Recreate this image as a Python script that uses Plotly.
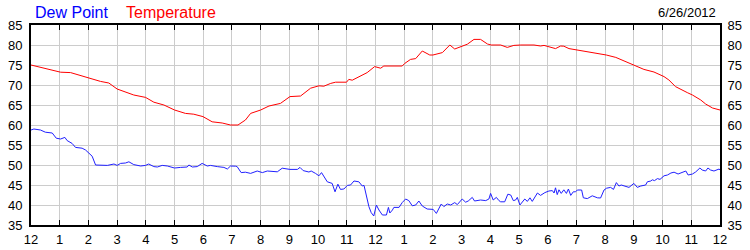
import plotly.graph_objects as go

# Hours since midnight (0-24) and readings
temp_t = [0, 0.33, 0.68, 1.03, 1.38, 1.72, 2.01, 2.42, 2.71, 3.0, 3.58, 3.99, 4.28, 4.63,
          5.0, 5.38, 5.67, 5.99, 6.31, 6.66, 6.95, 7.21, 7.47, 7.65, 8.0, 8.29, 8.69,
          9.02, 9.39, 9.74, 10.03, 10.2, 10.44, 10.61, 10.99, 11.07, 11.19, 11.37, 11.71,
          11.97, 12.18, 12.29, 12.53, 12.93, 13.02, 13.22, 13.4, 13.63, 13.89, 14.0, 14.33,
          14.59, 14.76, 15.02, 15.2, 15.43, 15.66, 15.9, 16.03, 16.36, 16.59, 16.82, 17.06,
          17.52, 17.75, 17.87, 18.04, 18.27, 18.45, 18.56, 18.74, 19.03, 19.38, 19.67,
          20.04, 20.37, 20.71, 21.04, 21.35, 21.7, 22.05, 22.22, 22.45, 22.86, 23.04,
          23.33, 23.5, 23.74, 24.0]
temp_v = [75.0, 74.4, 73.75, 73.2, 73.1, 72.4, 71.9, 70.9, 70.5, 69.0, 67.5, 66.9, 65.7, 65.0,
          63.75, 62.9, 62.7, 62.1, 60.8, 60.5, 60.0, 60.0, 61.25, 62.9, 63.75, 64.75, 65.4,
          67.1, 67.25, 69.2, 69.8, 69.7, 70.4, 70.7, 70.7, 71.4, 71.2, 71.9, 73.1,
          74.6, 74.2, 74.75, 74.8, 74.75, 75.4, 76.4, 76.6, 78.5, 77.5, 77.5, 78.1,
          80.0, 79.0, 79.6, 80.2, 81.4, 81.4, 80.25, 80.0, 80.0, 79.4, 79.9, 80.0,
          80.0, 79.75, 79.9, 79.6, 79.1, 79.75, 79.7, 79.1, 78.75, 78.4, 77.9,
          77.5, 76.9, 75.8, 74.9, 73.9, 73.25, 72.1, 71.25, 69.6, 68.1, 67.5,
          66.25, 65.25, 64.25, 63.75]

dew_t = [0, 0.1, 0.33, 0.5, 0.74, 0.88, 1.03, 1.18, 1.26, 1.43, 1.55, 1.78, 1.9, 2.01, 2.13,
         2.25, 2.42, 2.66, 2.89, 3.0, 3.12, 3.29, 3.41, 3.58, 3.82, 3.99, 4.1, 4.28, 4.4,
         4.57, 4.75, 5.0, 5.21, 5.44, 5.5, 5.62, 5.79, 5.96, 6.14, 6.25, 6.49, 6.72, 6.84,
         6.95, 7.13, 7.18, 7.32, 7.47, 7.65, 7.88, 8.06, 8.23, 8.58, 8.75, 9.02, 9.28,
         9.37, 9.48, 9.68, 9.76, 9.91, 10.03, 10.12, 10.32, 10.49, 10.59, 10.69, 10.78,
         10.9, 11.02, 11.13, 11.25, 11.42, 11.54, 11.6, 11.68, 11.77, 11.85, 11.94, 12.03,
         12.12, 12.24, 12.38, 12.45, 12.5, 12.59, 12.64, 12.82, 12.93, 13.05, 13.16, 13.28,
         13.4, 13.51, 13.63, 13.8, 14.01, 14.12, 14.29, 14.38, 14.5, 14.62, 14.76, 14.85,
         15.02, 15.14, 15.23, 15.37, 15.45, 15.66, 15.84, 15.95, 16.01, 16.1, 16.21, 16.3,
         16.36, 16.5, 16.61, 16.71, 16.8, 16.88, 16.94, 17.03, 17.11, 17.2, 17.29, 17.38,
         17.46, 17.54, 17.64, 17.75, 17.9, 18.04, 18.16, 18.22, 18.27, 18.33, 18.39, 18.47,
         18.56, 18.65, 18.72, 18.8, 18.89, 18.97, 19.03, 19.18, 19.24, 19.38, 19.55, 19.73,
         19.84, 19.96, 20.05, 20.19, 20.29, 20.39, 20.48, 20.56, 20.71, 20.83, 21.0, 21.12,
         21.24, 21.41, 21.47, 21.59, 21.64, 21.72, 21.82, 21.91, 22.05, 22.17, 22.29, 22.4,
         22.54, 22.7, 22.81, 22.89, 23.04, 23.15, 23.3, 23.38, 23.5, 23.58, 23.67, 23.79,
         23.88, 23.97, 24.0]
dew_v = [58.75, 59.0, 58.75, 58.2, 58.0, 56.7, 56.5, 56.9, 56.1, 55.4, 54.4, 54.2, 53.75, 52.9, 52.2,
         50.0, 50.0, 49.9, 50.25, 49.9, 50.4, 50.5, 50.8, 50.1, 49.75, 49.9, 50.25, 49.6, 49.5,
         49.9, 49.75, 49.25, 49.4, 49.5, 50.0, 49.5, 49.6, 50.4, 49.75, 49.9, 49.6, 49.4, 49.0,
         49.75, 49.7, 49.6, 48.1, 48.2, 47.9, 48.5, 48.1, 48.5, 48.3, 49.2, 48.9, 48.9,
         49.4, 48.6, 48.25, 48.5, 47.9, 47.3, 48.1, 45.8, 45.4, 43.3, 45.2, 43.9,
         44.0, 44.9, 45.0, 46.0, 45.8, 44.75, 44.9, 42.1, 39.6, 38.1, 37.25, 40.0,
         38.75, 37.5, 37.5, 39.4, 38.0, 38.75, 39.4, 39.4, 40.6, 41.5, 41.1, 39.8,
         40.0, 41.0, 39.75, 39.0, 38.9, 37.9, 40.25, 39.6, 40.25, 40.0, 40.6, 40.1,
         41.5, 40.7, 41.0, 41.9, 41.0, 41.25, 41.1, 41.5, 42.9, 41.25, 41.9, 41.1,
         40.8, 40.8, 42.7, 42.5, 41.1, 41.25, 41.9, 40.0, 40.8, 41.5, 40.9, 41.8,
         40.9, 41.8, 43.0, 42.4, 43.1, 43.5, 43.6, 43.0, 44.3, 42.6, 43.8, 42.9,
         43.8, 42.9, 44.0, 42.4, 43.3, 43.3, 43.75, 43.75, 41.8, 41.6, 42.3, 41.8,
         41.75, 43.75, 44.2, 44.4, 43.9, 45.6, 44.75, 45.0, 44.75, 44.4, 45.4, 44.4,
         44.75, 45.0, 45.8, 46.0, 46.3, 46.1, 46.6, 46.4, 47.3, 47.5, 48.0, 48.2,
         47.75, 48.1, 48.5, 47.5, 47.75, 48.25, 49.25, 48.75, 48.5, 49.25, 48.75, 48.5,
         48.75, 49.0, 48.75]

x_tick_vals = list(range(0, 25))
x_tick_text = ["12", "1", "2", "3", "4", "5", "6", "7", "8", "9", "10", "11",
               "12", "1", "2", "3", "4", "5", "6", "7", "8", "9", "10", "11", "12"]
y_tick_vals = [35, 40, 45, 50, 55, 60, 65, 70, 75, 80, 85]

FONT = "Liberation Sans, Arial, sans-serif"
GRID = "#cccccc"

fig = go.Figure()
fig.add_trace(go.Scatter(x=dew_t, y=dew_v, mode="lines", name="Dew Point",
                         line=dict(color="#2020ff", width=1), yaxis="y"))
fig.add_trace(go.Scatter(x=temp_t, y=temp_v, mode="lines", name="Temperature",
                         line=dict(color="#ff0000", width=1), yaxis="y2"))

fig.update_layout(
    width=750, height=250,
    margin=dict(l=31, r=30, t=25, b=25),
    paper_bgcolor="white", plot_bgcolor="white",
    showlegend=False,
    font=dict(family=FONT, size=13, color="black"),
    xaxis=dict(range=[0, 24], tickvals=x_tick_vals, ticktext=x_tick_text,
               showgrid=True, gridcolor=GRID, gridwidth=1,
               showline=True, linecolor="black", linewidth=2, mirror="ticks",
               ticks="inside", ticklen=5, tickcolor="black", tickwidth=1,
               zeroline=False, tickfont=dict(size=13), ticklabelstandoff=1,
               automargin=False),
    yaxis=dict(range=[35, 85], tickvals=y_tick_vals,
               showgrid=True, gridcolor=GRID, gridwidth=1,
               showline=True, linecolor="black", linewidth=2,
               ticks="", zeroline=False, tickfont=dict(size=13), ticklabelstandoff=4,
               automargin=False),
    yaxis2=dict(range=[35, 85], tickvals=y_tick_vals, overlaying="y", side="right",
                showgrid=False, showline=True, linecolor="black", linewidth=2,
                ticks="", zeroline=False, tickfont=dict(size=13), ticklabelstandoff=3,
                automargin=False),
    annotations=[
        dict(text="Dew Point", x=0.003, y=1.065, xref="paper", yref="paper",
             xanchor="left", yanchor="middle", showarrow=False,
             font=dict(family=FONT, size=16, color="#0000ff")),
        dict(text="Temperature", x=0.135, y=1.065, xref="paper", yref="paper",
             xanchor="left", yanchor="middle", showarrow=False,
             font=dict(family=FONT, size=16, color="#ff0000")),
        dict(text="6/26/2012", x=0.997, y=1.065, xref="paper", yref="paper",
             xanchor="right", yanchor="middle", showarrow=False,
             font=dict(family=FONT, size=13, color="black")),
    ],
)

fig.write_html("out.html")
